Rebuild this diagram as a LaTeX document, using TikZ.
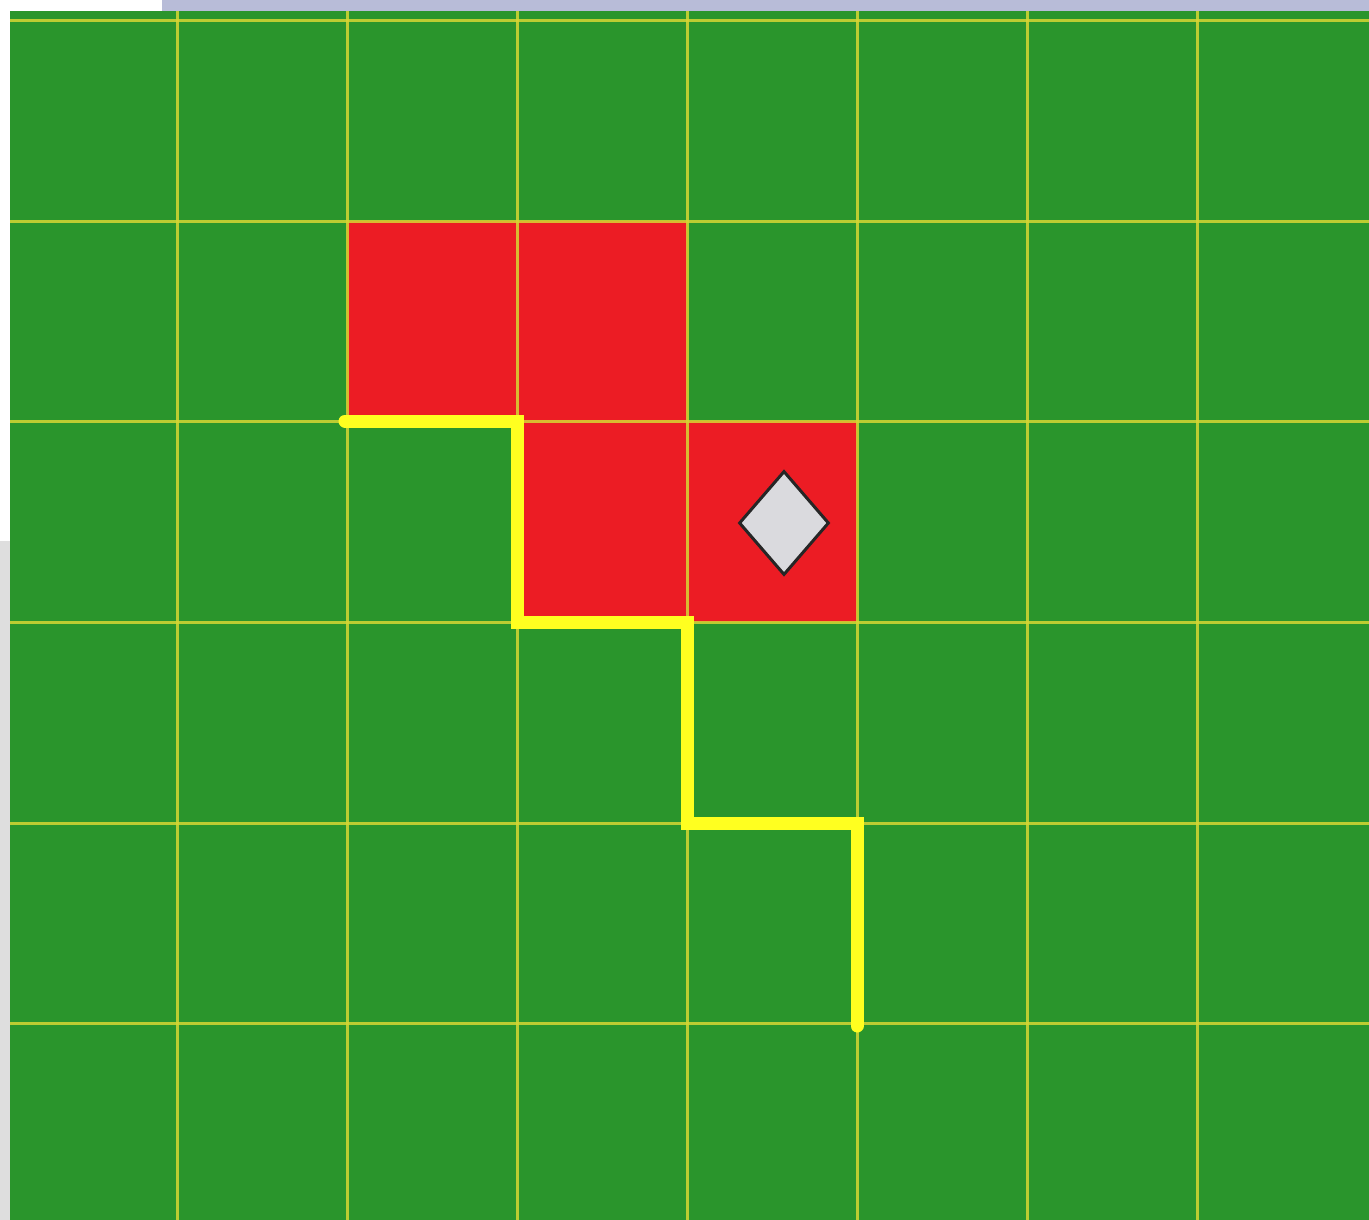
\documentclass[tikz,border=0pt]{standalone}
\usetikzlibrary{shapes.geometric}
\definecolor{fieldgreen}{RGB}{42,149,44}
\definecolor{cellred}{RGB}{236,28,36}
\definecolor{gridyellow}{RGB}{214,214,52}
\definecolor{pathyellow}{RGB}{255,255,32}
\definecolor{topband}{RGB}{184,188,216}
\definecolor{sidegray}{RGB}{222,222,222}
\definecolor{diamondfill}{RGB}{218,218,222}
\tikzset{
  gridline/.style={draw=gridyellow, line width=3pt, opacity=0.85},
  redcell/.style={fill=cellred},
  routepath/.style={draw=pathyellow, line width=13pt, line cap=round, line join=miter},
  marker/.style={diamond, draw=black!85, line width=3pt, fill=diamondfill, minimum width=90pt, minimum height=104pt, inner sep=0pt}
}
\begin{document}
\begin{tikzpicture}[x=1pt,y=-1pt]
\useasboundingbox (0,0) rectangle (1369,1220);
% margins
\fill[white] (0,0) rectangle (1369,1220);
\fill[topband] (162,0) rectangle (1369,11);
\fill[sidegray] (0,541) rectangle (10,1220);
% field
\fill[fieldgreen] (10,11) rectangle (1369,1220);
% red cells
\fill[redcell] (347,221) rectangle (517,421);
\fill[redcell] (517,221) rectangle (687,421);
\fill[redcell] (517,421) rectangle (687,622);
\fill[redcell] (687,421) rectangle (857,622);
% grid
\foreach \x in {177,347,517,687,857,1027,1197}
  \draw[gridline] (\x,11) -- (\x,1220);
\foreach \y in {21,221,421,622,823,1023}
  \draw[gridline] (10,\y) -- (1369,\y);
% route
\coordinate (p0) at (345,421);
\coordinate (p1) at (517,421);
\coordinate (p2) at (517,622);
\coordinate (p3) at (687,622);
\coordinate (p4) at (687,823);
\coordinate (p5) at (857,823);
\coordinate (p6) at (857,1026);
\draw[routepath] (p0) -- (p1) -- (p2) -- (p3) -- (p4) -- (p5) -- (p6);
% marker
\node[marker] (gem) at (784,523) {};
\end{tikzpicture}
\end{document}
